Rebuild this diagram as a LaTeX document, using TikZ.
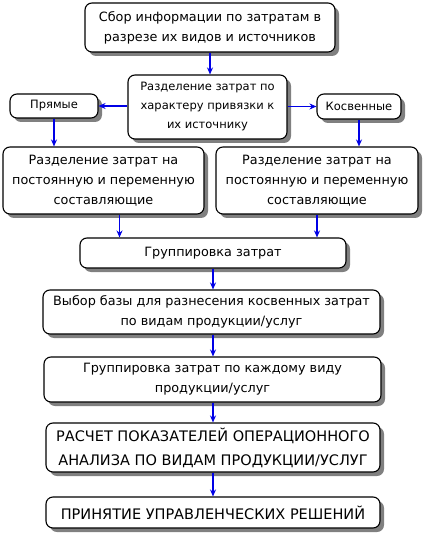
\documentclass[tikz,border=0pt]{standalone}
\usepackage{fontspec}
\setmainfont{DejaVu Sans}
\usepackage{xcolor}
\usepackage{tikz}
\usetikzlibrary{arrows.meta, positioning, shadows}
\definecolor{flowblue}{RGB}{0,0,230}
\definecolor{boxshade}{RGB}{128,128,128}
\tikzstyle{stage} = [draw=black, line width=1.1pt, fill=white, rounded corners=7pt, align=center, inner sep=2pt,
    font=\fontsize{12.8}{20}\selectfont,
    drop shadow={shadow xshift=4pt, shadow yshift=-4pt, fill=boxshade, opacity=1}]
\tikzstyle{caps} = [font=\fontsize{14.5}{24}\selectfont]
\tikzstyle{small} = [font=\fontsize{11.5}{19}\selectfont]
\tikzstyle{flow} = [-{Stealth[length=7pt, width=6pt]}, line width=1.6pt, draw=flowblue]

\begin{document}
\begin{tikzpicture}[x=1pt, y=-1pt]
    \useasboundingbox (0,0) rectangle (424,534);
    \node[stage, minimum width=250pt, minimum height=49pt] (collect) at (210,27.5)
        {Сбор информации по затратам в\\разрезе их видов и источников};
    \node[stage, small, minimum width=159pt, minimum height=64pt] (split) at (207.5,107)
        {Разделение затрат по\\характеру привязки к\\их источнику};
    \node[stage, small, minimum width=88pt, minimum height=24pt] (direct) at (54,106) {Прямые};
    \node[stage, small, minimum width=84pt, minimum height=25pt] (indirect) at (359,106.5) {Косвенные};
    \node[stage, minimum width=201pt, minimum height=67pt] (fixleft) at (103.5,180.5)
        {Разделение затрат на\\постоянную и переменную\\составляющие};
    \node[stage, minimum width=202pt, minimum height=67pt] (fixright) at (317,180.5)
        {Разделение затрат на\\постоянную и переменную\\составляющие};
    \node[stage, minimum width=266pt, minimum height=30pt] (group) at (213,253) {Группировка затрат};
    \node[stage, minimum width=337pt, minimum height=44pt] (base) at (211.5,312)
        {Выбор базы для разнесения косвенных затрат\\по видам продукции/услуг};
    \node[stage, minimum width=337pt, minimum height=45pt] (pergroup) at (212.5,379.5)
        {Группировка затрат по каждому виду\\продукции/услуг};
    \node[stage, caps, minimum width=334pt, minimum height=49pt] (calc) at (213,447.5)
        {РАСЧЕТ ПОКАЗАТЕЛЕЙ ОПЕРАЦИОННОГО\\АНАЛИЗА ПО ВИДАМ ПРОДУКЦИИ/УСЛУГ};
    \node[stage, caps, minimum width=334pt, minimum height=31pt] (decide) at (213,512.5)
        {ПРИНЯТИЕ УПРАВЛЕНЧЕСКИХ РЕШЕНИЙ};

    \draw[flow] (collect.south) -- (collect.south |- split.north);
    \draw[flow] (split.west |- direct) -- (direct.east);
    \draw[flow] (split.east |- indirect) -- (indirect.west);
    \draw[flow] (direct.south) -- (direct.south |- fixleft.north);
    \draw[flow] (indirect.south) -- (indirect.south |- fixright.north);
    \draw[flow] ([xshift=16pt]fixleft.south) -- ([xshift=16pt]fixleft.south |- group.north);
    \draw[flow] (fixright.south) -- (fixright.south |- group.north);
    \draw[flow] (group.south) -- (group.south |- base.north);
    \draw[flow] (group.south |- base.south) -- (group.south |- pergroup.north);
    \draw[flow] (group.south |- pergroup.south) -- (group.south |- calc.north);
    \draw[flow] (calc.south) -- (decide.north);
\end{tikzpicture}
\end{document}
